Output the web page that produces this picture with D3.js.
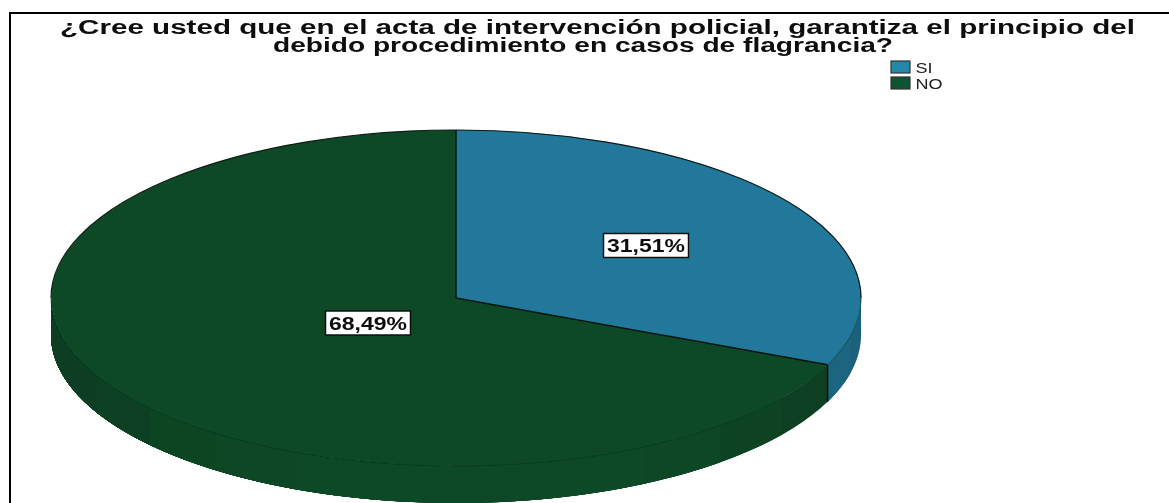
<!DOCTYPE html>
<html>
<head>
<meta charset="utf-8">
<script src="https://cdn.jsdelivr.net/npm/d3@7"></script>
<style>
  html, body { margin: 0; padding: 0; background: #fff; }
  svg { display: block; }
  text { font-family: "Liberation Sans", Arial, sans-serif; }
</style>
</head>
<body>
<svg id="chart" width="1169" height="503" viewBox="0 0 1169 503"></svg>
<script>
const categories = ["SI", "NO"];
const percents = [31.51, 68.49];
const labels = ["31,51%", "68,49%"];
const titleLines = [
    "¿Cree usted que en el acta de intervención policial, garantiza el principio del",
    "debido procedimiento en casos de flagrancia?"
];

const W = 1169, H = 503;
const cx = 456, cy = 298, rx = 405, ry = 168, depth = 37;

const svgRoot = d3.select("#chart");
// the reference is a soft, resampled screenshot
svgRoot.append("defs").append("filter")
    .attr("id", "soft")
    .attr("filterUnits", "userSpaceOnUse")
    .attr("x", 0).attr("y", 0).attr("width", W).attr("height", H)
    .append("feGaussianBlur").attr("stdDeviation", 0.45);
const svg = svgRoot.append("g").attr("filter", "url(#soft)");

const color = d3.scaleOrdinal().domain(categories).range(["#20789a", "#0a4a27"]);
const legendColor = d3.scaleOrdinal().domain(categories).range(["#2488ac", "#0c5530"]);

// frame, open at the bottom
svg.append("path")
    .attr("d", `M10,${H}V13H${W}`)
    .attr("fill", "none")
    .attr("stroke", "#000")
    .attr("stroke-width", 2);

const pie = d3.pie().sort(null).value(d => d)(percents);
const px = a => cx + rx * Math.sin(a);
const py = a => cy - ry * Math.cos(a);

// side wall, only the front half shows. Each band runs to the slice end so no seams appear
const wall = svg.append("g");
const strip = Math.PI / 14;
pie.forEach((p, i) => {
    const from = Math.max(p.startAngle, Math.PI / 2);
    const to = Math.min(p.endAngle, Math.PI * 1.5);
    const base = d3.rgb(color(categories[i]));
    for (let a = from; a < to; a += strip) {
        const t = 0.8 + 0.2 * Math.pow(Math.abs(Math.cos(a + strip / 2)), 1.5);
        const ang = d3.range(0, 61).map(k => a + (to - a) * k / 60);
        const line = d3.line()(ang.map(v => [px(v), py(v)]).concat(ang.slice().reverse().map(v => [px(v), py(v) + depth])));
        wall.append("path").attr("d", line + "Z").attr("fill", d3.rgb(base.r * t, base.g * t, base.b * t).formatHex());
    }
});

// vertical edge where the slices meet on the wall
const cut = pie[0].endAngle;
svg.append("line")
    .attr("x1", px(cut)).attr("x2", px(cut))
    .attr("y1", py(cut)).attr("y2", py(cut) + depth)
    .attr("stroke", "#06110a").attr("stroke-width", 1.5);

// top of the pie, unit arcs squashed into the ellipse
const arc = d3.arc().innerRadius(0).outerRadius(1);
const face = svg.append("g")
    .attr("transform", `translate(${cx},${cy}) scale(${rx},${ry})`);
face.selectAll("path.slice")
    .data(pie)
    .join("path")
    .attr("class", "slice")
    .attr("d", arc)
    .attr("fill", (d, i) => color(categories[i]));

// rim: dark along the back, barely there along the front
const rim = d3.arc().innerRadius(1).outerRadius(1);
face.append("path")
    .attr("d", rim({ startAngle: -Math.PI / 2, endAngle: Math.PI / 2 }))
    .attr("fill", "none").attr("stroke", "#0a1a14").attr("stroke-width", 1.2)
    .attr("vector-effect", "non-scaling-stroke");
face.append("path")
    .attr("d", rim({ startAngle: Math.PI / 2, endAngle: Math.PI * 1.5 }))
    .attr("fill", "none").attr("stroke", "#07351c").attr("stroke-width", 0.8).attr("stroke-opacity", 0.45)
    .attr("vector-effect", "non-scaling-stroke");

// slice borders
svg.selectAll("line.radius")
    .data(pie)
    .join("line")
    .attr("class", "radius")
    .attr("x1", cx).attr("y1", cy)
    .attr("x2", d => px(d.startAngle)).attr("y2", d => py(d.startAngle))
    .attr("stroke", "#07140f").attr("stroke-width", 1.5);

// data labels
const labelPos = [[646, 245.5], [368, 323]];
labels.forEach((t, i) => {
    const g = svg.append("g").attr("transform", `translate(${labelPos[i][0]},${labelPos[i][1]})`);
    g.append("rect")
        .attr("x", -42.5).attr("y", -12).attr("width", 85).attr("height", 24)
        .attr("fill", "#fff").attr("stroke", "#111").attr("stroke-width", 1.5);
    g.append("text")
        .attr("text-anchor", "middle").attr("y", 6.5)
        .attr("font-size", 18).attr("font-weight", "bold").attr("fill", "#111")
        .attr("textLength", 78).attr("lengthAdjust", "spacingAndGlyphs")
        .text(t);
});

// title
svg.selectAll("text.title")
    .data(titleLines)
    .join("text")
    .attr("class", "title")
    .attr("x", d => d === titleLines[0] ? 60 : 273)
    .attr("y", (d, i) => 33.5 + i * 18.5)
    .attr("font-size", 19.5)
    .attr("font-weight", "bold")
    .attr("fill", "#0a0a0a")
    .attr("textLength", (d, i) => i === 0 ? 1075 : 620)
    .attr("lengthAdjust", "spacingAndGlyphs")
    .text(d => d);

// legend
const legend = svg.selectAll("g.legend")
    .data(categories)
    .join("g")
    .attr("class", "legend")
    .attr("transform", (d, i) => `translate(891,${61 + i * 16})`);
legend.append("rect")
    .attr("x", 0).attr("y", 0).attr("width", 19).attr("height", 12)
    .attr("fill", d => legendColor(d))
    .attr("stroke", "#333").attr("stroke-width", 1.2);
legend.append("text")
    .attr("x", 24.5).attr("y", 11.5)
    .attr("font-size", 15).attr("fill", "#222")
    .each(function (d) {
        const el = d3.select(this).text(d);
        el.attr("textLength", this.getComputedTextLength() * 1.2)
          .attr("lengthAdjust", "spacingAndGlyphs");
    });
</script>
</body>
</html>
